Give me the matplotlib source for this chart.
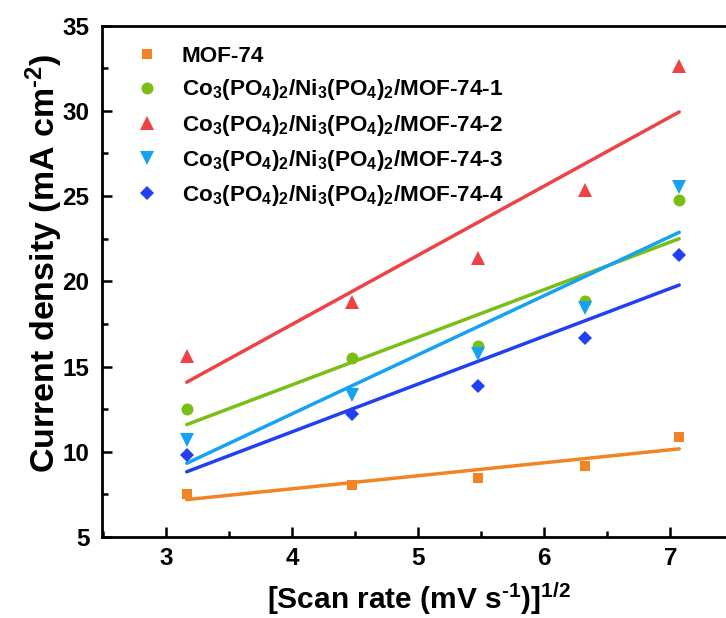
import numpy as np
import matplotlib
matplotlib.use("Agg")
import matplotlib.pyplot as plt
from matplotlib.ticker import MultipleLocator

plt.rcParams['font.family'] = ['Liberation Sans', 'DejaVu Sans']
plt.rcParams['font.weight'] = 'bold'
plt.rcParams['mathtext.fontset'] = 'custom'
plt.rcParams['mathtext.rm'] = 'Liberation Sans:bold'
plt.rcParams['mathtext.bf'] = 'Liberation Sans:bold'
plt.rcParams['mathtext.default'] = 'bf'

scan_rate = np.sqrt(np.array([10, 20, 30, 40, 50]))

labels = [
    "MOF-74",
    r"Co$_3$(PO$_4$)$_2$/Ni$_3$(PO$_4$)$_2$/MOF-74-1",
    r"Co$_3$(PO$_4$)$_2$/Ni$_3$(PO$_4$)$_2$/MOF-74-2",
    r"Co$_3$(PO$_4$)$_2$/Ni$_3$(PO$_4$)$_2$/MOF-74-3",
    r"Co$_3$(PO$_4$)$_2$/Ni$_3$(PO$_4$)$_2$/MOF-74-4",
]
mof74 = [7.55, 8.07, 8.47, 9.18, 10.84]
mof74_1 = [12.48, 15.49, 16.20, 18.87, 24.76]
mof74_2 = [15.61, 18.81, 21.38, 25.37, 32.6]
mof74_3 = [10.70, 13.31, 15.75, 18.42, 25.51]
mof74_4 = [9.81, 12.19, 13.87, 16.68, 21.55]

series = [mof74, mof74_1, mof74_2, mof74_3, mof74_4]
colors = ['#F28426', '#78BE14', '#EE4246', '#16A2F4', '#2040F2']
markers = ['s', 'o', '^', 'v', 'D']
msizes = [7.9, 8.6, 10, 10, 7.6]

W, H = 726, 618
fig = plt.figure(figsize=(W/100, H/100), dpi=100)
ax_left, ax_top, ax_bottom = 102, 25.5, 537
ax = fig.add_axes([ax_left/W, (H-ax_bottom)/H, 630/W, (ax_bottom-ax_top)/H])

for y, c, m, ms, lab in zip(series, colors, markers, msizes, labels):
    y = np.array(y)
    ax.plot(scan_rate, y, linestyle='none', marker=m, markersize=ms,
            color=c, markeredgewidth=0, label=lab, zorder=3)
    k, b = np.polyfit(scan_rate, y, 1)
    ax.plot(scan_rate[[0, -1]], k*scan_rate[[0, -1]] + b, color=c, lw=2.5,
            zorder=2, solid_capstyle='round')

ax.set_xlim(2.49, 7.49)
ax.set_ylim(5, 35)
ax.xaxis.set_major_locator(MultipleLocator(1))
ax.xaxis.set_minor_locator(MultipleLocator(0.5))
ax.yaxis.set_major_locator(MultipleLocator(5))
ax.yaxis.set_minor_locator(MultipleLocator(2.5))
ax.tick_params(which='both', direction='in', width=1.8, top=False, right=False)
ax.tick_params(which='major', length=7.5, labelsize=17.5)
ax.tick_params(axis='y', which='major', pad=9)
ax.tick_params(axis='x', which='major', pad=7)
ax.tick_params(which='minor', length=4)
for sp in ax.spines.values():
    sp.set_linewidth(2.0)
for t in ax.get_xticklabels() + ax.get_yticklabels():
    t.set_fontweight('bold')

fig.text(419/W, 1-599/H, r"[Scan rate (mV s$^{\text{-1}}$)]$^{1/2}$", fontsize=21.5,
         fontweight='bold', ha='center', va='center')
fig.text(44/W, 1-263/H, r"Current density (mA cm$^{\text{-2}}$)", fontsize=24.5,
         fontweight='bold', ha='center', va='center', rotation=90)

leg = ax.legend(loc='upper left', bbox_to_anchor=(0.029, 0.99), frameon=False,
                handlelength=1.0, handletextpad=1.04,
                labelspacing=0.45, borderaxespad=0.3,
                prop={'weight': 'bold', 'size': 16.2})

fig.savefig('out.png', dpi=100)
